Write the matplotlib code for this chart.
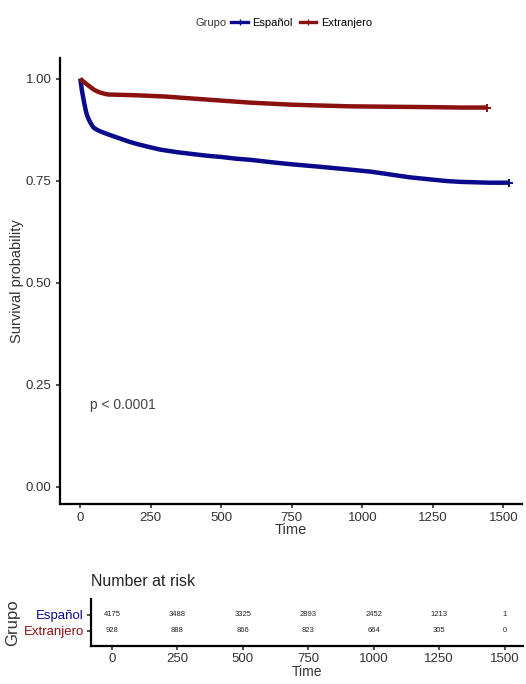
import matplotlib
matplotlib.use("Agg")
import matplotlib.pyplot as plt
from matplotlib.lines import Line2D

plt.rcParams['font.family'] = ['Liberation Sans', 'DejaVu Sans']

groups = ["Español", "Extranjero"]
colors = ["#0a0a8c", "#8b1010"]

esp_time = [0, 3, 6, 10, 14, 17, 20, 24, 30, 35, 41, 47, 58, 70, 85, 100, 125, 150, 175, 200, 240, 284, 340, 400, 450, 500, 550, 603, 680, 750, 850, 957, 1030, 1100, 1170, 1241, 1300, 1350, 1450, 1518]
esp_surv = [1.0, 0.985, 0.97, 0.955, 0.94, 0.93, 0.92, 0.91, 0.90, 0.893, 0.886, 0.88, 0.875, 0.871, 0.867, 0.863, 0.857, 0.851, 0.845, 0.84, 0.833, 0.826, 0.82, 0.815, 0.811, 0.808, 0.804, 0.801, 0.795, 0.79, 0.784, 0.777, 0.772, 0.765, 0.758, 0.753, 0.749, 0.747, 0.745, 0.745]

ext_time = [0, 10, 25, 40, 50, 65, 75, 90, 100, 150, 200, 300, 400, 500, 603, 750, 850, 957, 1100, 1250, 1350, 1443]
ext_surv = [1.0, 0.993, 0.985, 0.977, 0.972, 0.967, 0.965, 0.962, 0.961, 0.960, 0.959, 0.956, 0.951, 0.946, 0.941, 0.936, 0.934, 0.932, 0.931, 0.930, 0.929, 0.929]

xticks = [0, 250, 500, 750, 1000, 1250, 1500]
yticks = [0.00, 0.25, 0.50, 0.75, 1.00]
ytick_labels = ["0.00", "0.25", "0.50", "0.75", "1.00"]

risk_esp = [4175, 3488, 3325, 2893, 2452, 1213, 1]
risk_ext = [928, 888, 866, 823, 664, 305, 0]

p_text = "p < 0.0001"

fig = plt.figure(figsize=(5.26, 6.84), dpi=100)

ax = fig.add_axes([0.114, 0.263, 0.878, 0.652])
for t, s, c in [(esp_time, esp_surv, colors[0]), (ext_time, ext_surv, colors[1])]:
    ax.plot(t, s, color=c, lw=3.2, solid_capstyle='butt')
    ax.plot(t[-1:], s[-1:], ls='none', marker='+', ms=6, mew=1.4, color=c)

ax.set_xlim(-72, 1565)
ax.set_ylim(-0.042, 1.05)
ax.set_xticks(xticks)
ax.set_xticklabels([str(v) for v in xticks])
ax.set_yticks(yticks)
ax.set_yticklabels(ytick_labels)
for sp in ['top', 'right']:
    ax.spines[sp].set_visible(False)
for sp in ['left', 'bottom']:
    ax.spines[sp].set_linewidth(1.6)
ax.tick_params(axis='both', labelsize=9.5, colors='#333333', length=3, width=1.2, pad=3)
ax.set_xlabel("Time", fontsize=10.5, color='#333333', labelpad=-1)
ax.set_ylabel("Survival probability", fontsize=10.5, color='#333333', labelpad=1)
ax.text(35, 0.20, p_text, fontsize=10, color='#444444', va='center', ha='left')

handles = [Line2D([], [], color=c, lw=2.4, marker='+', ms=5) for c in colors]
fig.text(0.372, 0.966, "Grupo", fontsize=8, color='#333333', va='center', ha='left')
fig.legend(handles, groups, loc='center left', bbox_to_anchor=(0.44, 0.966), ncol=2,
           frameon=False, fontsize=8, handlelength=1.5, columnspacing=0.6,
           handletextpad=0.4, borderpad=0, borderaxespad=0)

axr = fig.add_axes([0.173, 0.0556, 0.822, 0.068])
axr.set_xlim(-80, 1572)
axr.set_ylim(-0.95, 1.95)
for i, t in enumerate(xticks):
    axr.text(t, 1, str(risk_esp[i]), fontsize=5.5, ha='center', va='center', color='#222222')
    axr.text(t, 0, str(risk_ext[i]), fontsize=5.5, ha='center', va='center', color='#222222')
axr.set_xticks(xticks)
axr.set_xticklabels([str(v) for v in xticks])
axr.set_yticks([1, 0])
axr.set_yticklabels(groups)
for sp in ['top', 'right']:
    axr.spines[sp].set_visible(False)
for sp in ['left', 'bottom']:
    axr.spines[sp].set_linewidth(1.6)
axr.tick_params(axis='both', labelsize=9.5, colors='#333333', length=3, width=1.2, pad=2)
for lbl, c in zip(axr.get_yticklabels(), colors):
    lbl.set_color(c)
axr.set_xlabel("Time", fontsize=10, color='#333333', labelpad=0)
axr.set_ylabel("Grupo", fontsize=12, color='#333333', labelpad=3)
axr.set_title("Number at risk", fontsize=11.5, loc='left', color='#222222', pad=10)

fig.savefig("out.png", dpi=100)
